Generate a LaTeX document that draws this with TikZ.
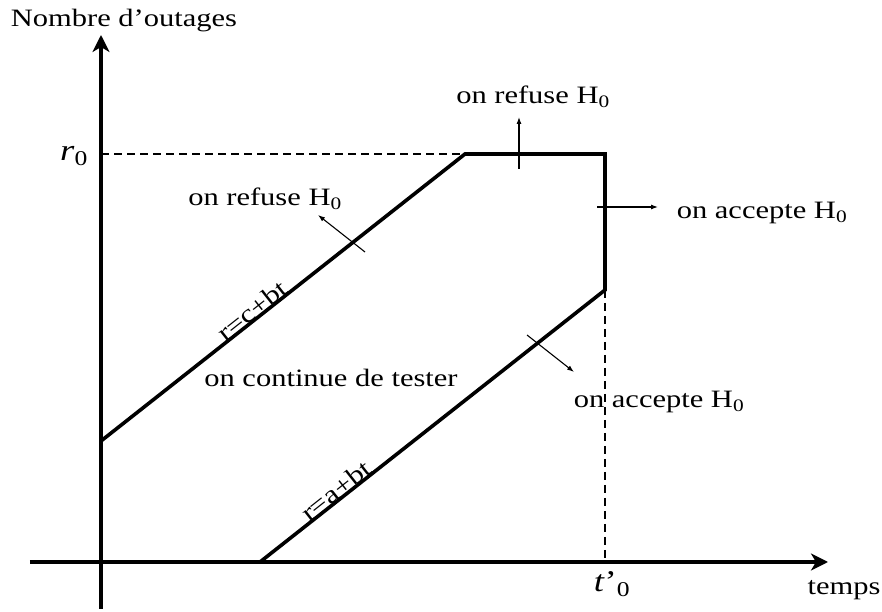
\documentclass[tikz,border=0pt]{standalone}
\usepackage{fontspec}
\setmainfont[FakeStretch=1.22]{Liberation Serif}
\usetikzlibrary{arrows.meta, positioning, calc}

\begin{document}
\begin{tikzpicture}[
    x=1pt, y=1pt,
    axis/.style={line width=3.6pt, -{Stealth[length=17pt, width=17pt, inset=5pt]}},
    border/.style={line width=3.6pt, line join=miter},
    guide/.style={line width=2.2pt, dash pattern=on 8pt off 5pt},
    hint/.style={line width=1.1pt, -{Latex[length=7pt, width=5pt]}},
    lbl/.style={font=\fontsize{25}{30}\selectfont, inner sep=0pt},
    symlbl/.style={font=\fontsize{30}{36}\selectfont, inner sep=0pt}
]
    \useasboundingbox (-101,-50) rectangle (781,562);

    % Axes
    \coordinate (ybot) at (0,-47);
    \coordinate (ytop) at (0,527);
    \coordinate (xbot) at (-71,0);
    \coordinate (xtop) at (727,0);
    \draw[axis] (ybot) -- (ytop);
    \draw[axis] (xbot) -- (xtop);
    \node[lbl] (ylab) at (23,541) {Nombre d’outages};
    \node[lbl] (xlab) at (743,-28) {temps};

    % Test region corners
    \coordinate (c0) at (0,121);
    \coordinate (c1) at (364,408);
    \coordinate (c2) at (504,408);
    \coordinate (c3) at (504,272);
    \coordinate (a0) at (159,0);
    \coordinate (r0) at (0,408);
    \coordinate (t0) at (504,0);

    % Guide lines
    \draw[guide] (r0) -- (c1);
    \draw[guide] (c3) -- (t0);
    \node[symlbl] (r0lab) at (-27,406) {\textit{r}\textsubscript{0}};
    \node[symlbl] (t0lab) at (511,-22) {\textit{t}’\textsubscript{0}};

    % Boundary
    \draw[border] (c0) -- (c1) -- (c2) -- (c3) -- (a0);
    \path (c0) -- node[lbl, sloped, above=0pt, pos=0.43] {r=c+bt} (c1);
    \path (a0) -- node[lbl, sloped, above=0pt, pos=0.236] {r=a+bt} (c3);

    % Decision arrows
    \coordinate (h1s) at (418,393);
    \coordinate (h1e) at (418,445);
    \coordinate (h2s) at (496,355);
    \coordinate (h2e) at (557,355);
    \coordinate (h3s) at (264,310);
    \coordinate (h3e) at (217,347);
    \coordinate (h4s) at (426,227);
    \coordinate (h4e) at (473,190);
    \draw[hint] (h1s) -- (h1e);
    \draw[hint] (h2s) -- (h2e);
    \draw[hint] (h3s) -- (h3e);
    \draw[hint] (h4s) -- (h4e);

    % Regions
    \node[lbl] (rej1) at (432,465) {on refuse H\textsubscript{0}};
    \node[lbl] (acc1) at (661,349) {on accepte H\textsubscript{0}};
    \node[lbl] (rej2) at (164,363) {on refuse H\textsubscript{0}};
    \node[lbl] (cont) at (230,184) {on continue de tester};
    \node[lbl] (acc2) at (558,160) {on accepte H\textsubscript{0}};
\end{tikzpicture}
\end{document}
